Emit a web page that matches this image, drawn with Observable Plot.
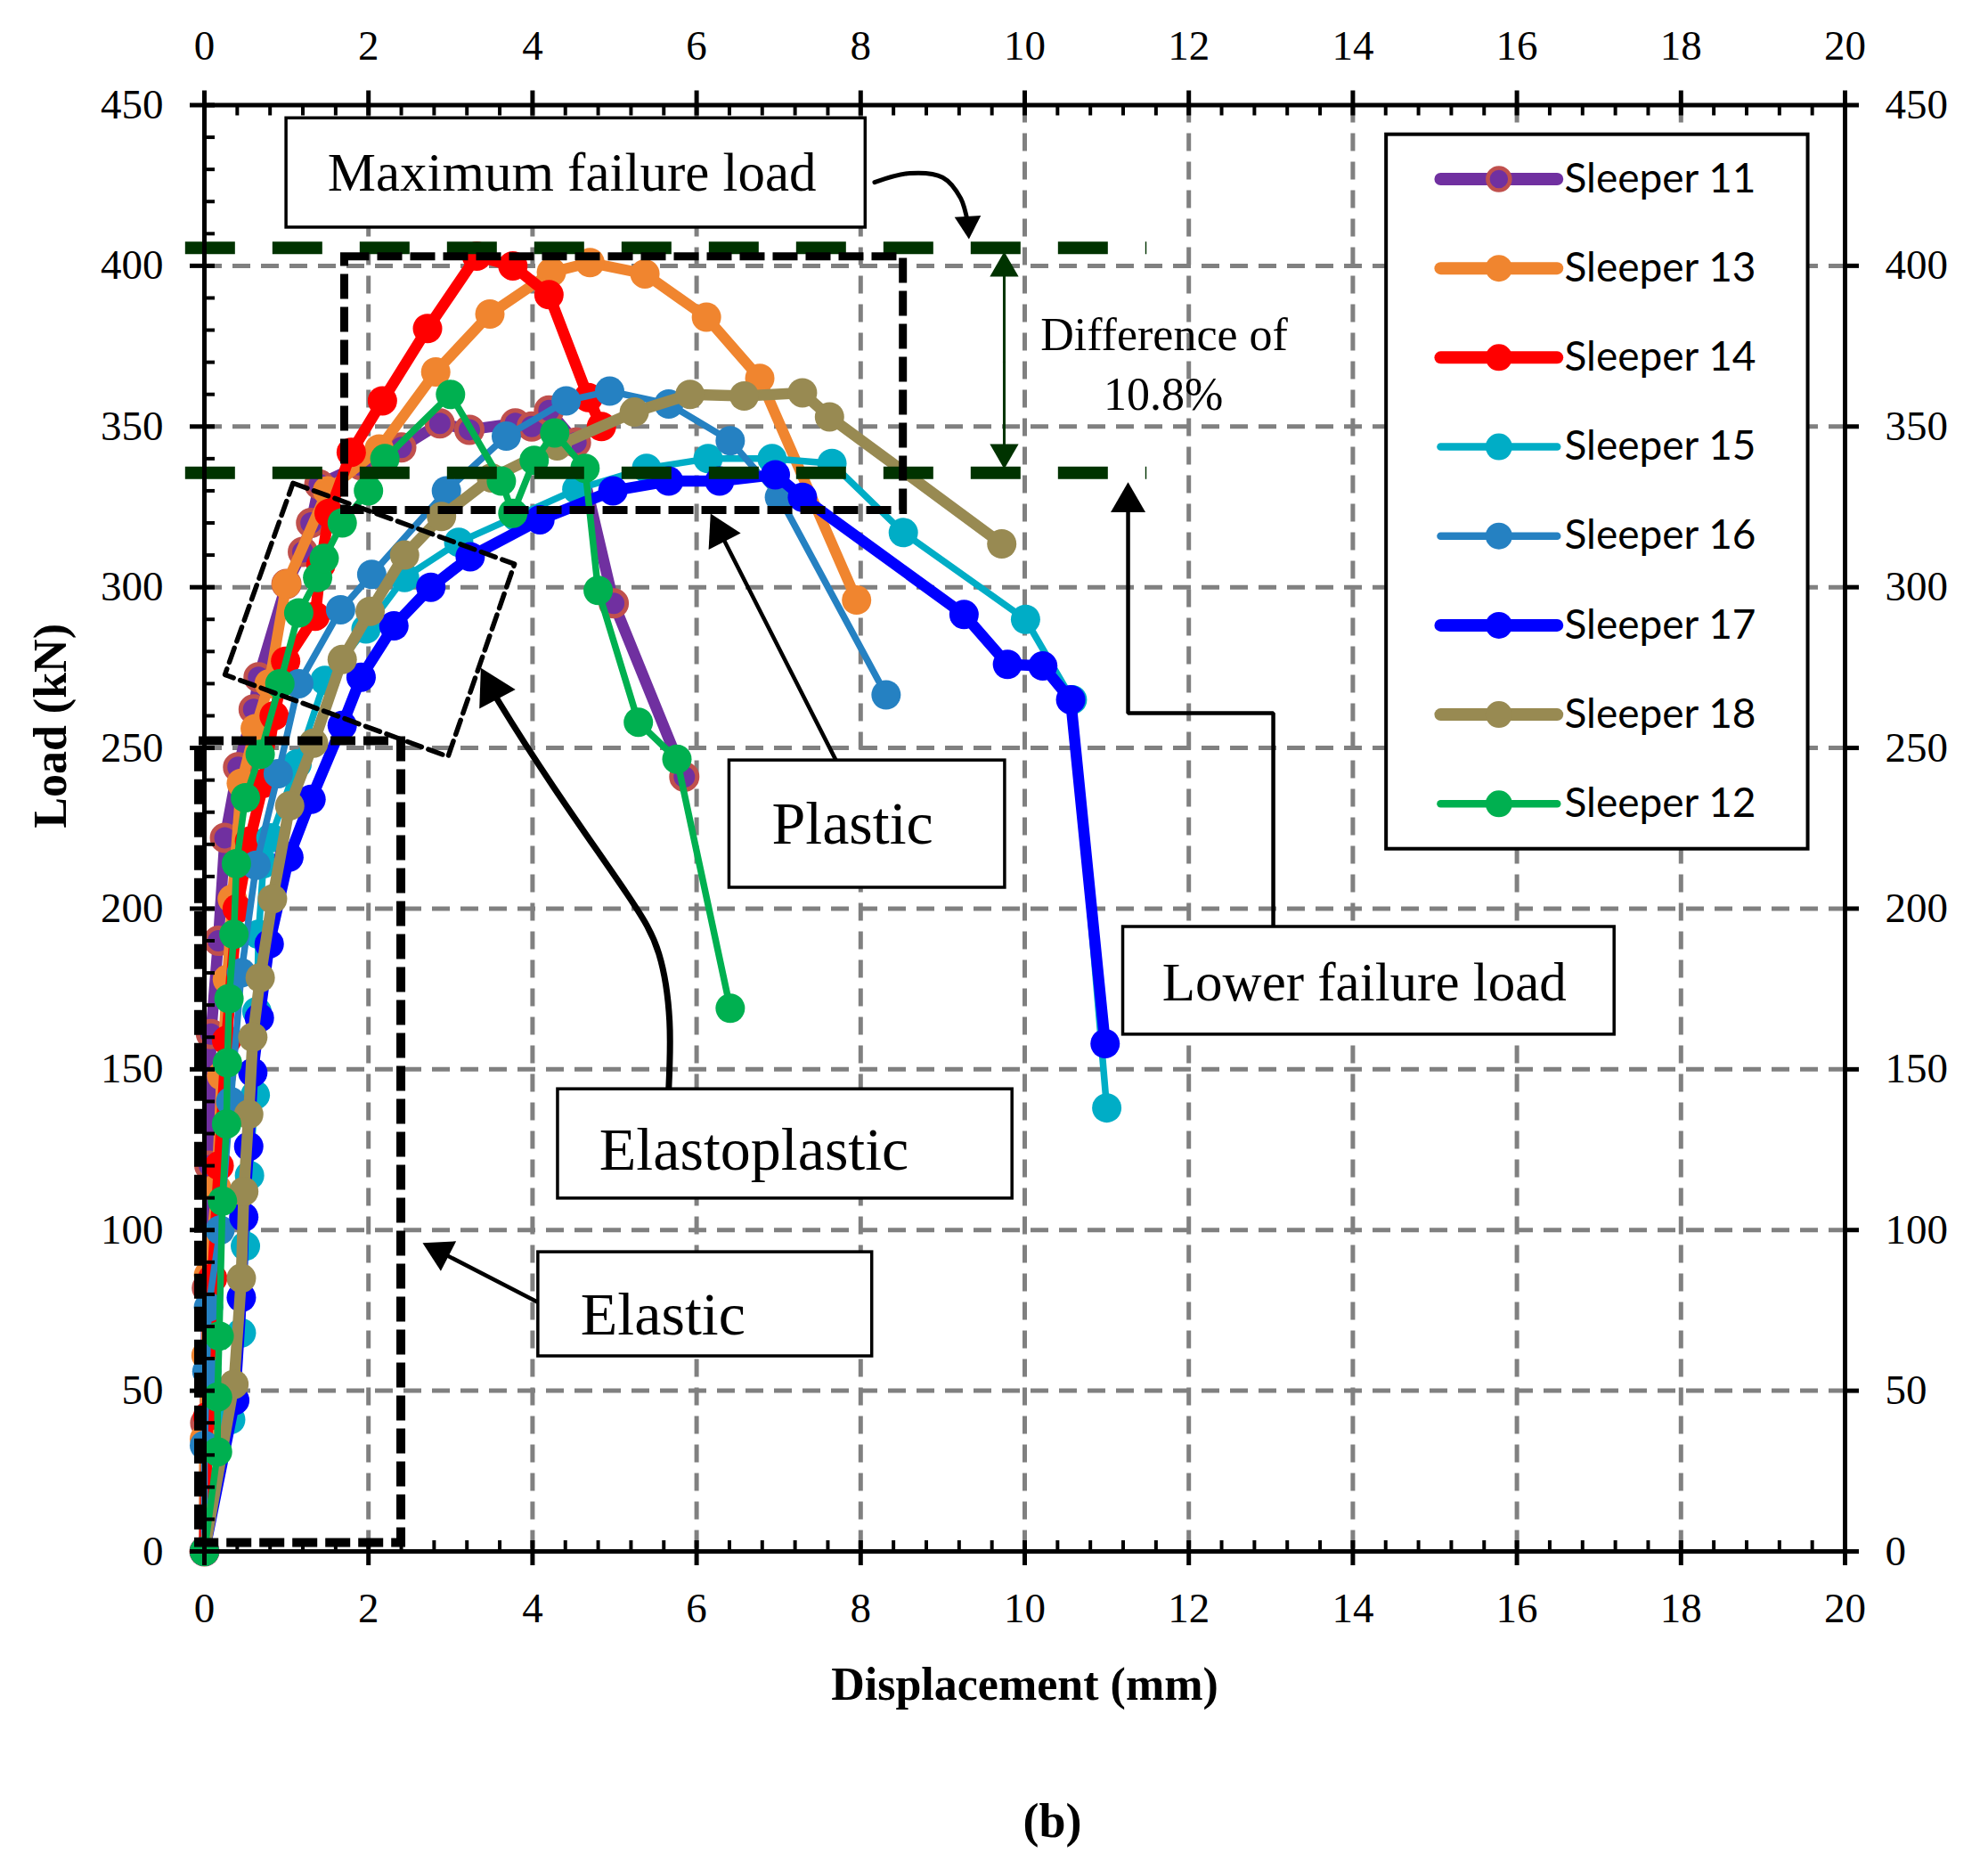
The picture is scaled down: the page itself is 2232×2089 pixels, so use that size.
<!DOCTYPE html>
<html>
<head>
<meta charset="utf-8">
<script src="https://cdn.jsdelivr.net/npm/d3@7"></script>
<script src="https://cdn.jsdelivr.net/npm/@observablehq/plot@0.6"></script>
<style>
html, body { margin: 0; padding: 0; background: #ffffff; }
#chart { width: 2232px; height: 2089px; }
</style>
</head>
<body>
<div id="chart"></div>
<script>
// ---------------- DATA ----------------
const seriesNames = ["Sleeper 11", "Sleeper 13", "Sleeper 14", "Sleeper 15", "Sleeper 16", "Sleeper 17", "Sleeper 18", "Sleeper 12"];

const s11Disp = [0, 0.01, 0.03, 0.06, 0.08, 0.17, 0.25, 0.41, 0.60, 0.66, 1.00, 1.20, 1.30, 1.40, 1.90, 2.40, 2.87, 3.23, 3.79, 3.99, 4.20, 4.53, 4.99, 5.85];
const s11Load = [0, 40, 82, 120, 161, 190, 222, 244, 262, 272, 301, 311, 320, 332, 338, 343.5, 351, 349, 351, 350, 355, 345, 295, 241];

const s13Disp = [0, 0.00, 0.02, 0.05, 0.15, 0.21, 0.28, 0.34, 0.45, 0.62, 0.79, 1.00, 1.50, 2.13, 2.82, 3.48, 4.23, 4.70, 5.37, 6.12, 6.77, 7.95];
const s13Load = [0, 35, 61, 86, 113, 148, 178, 203, 239, 256, 270, 301, 330, 343, 367, 385, 398, 401, 397.5, 384, 365, 296];

const s14Disp = [0, 0.04, 0.10, 0.18, 0.27, 0.40, 0.55, 0.72, 0.85, 0.99, 1.35, 1.42, 1.52, 1.79, 2.17, 2.72, 3.32, 3.76, 4.20, 4.68, 4.84];
const s14Load = [0, 42, 85, 120, 159, 200, 221, 239, 260, 277, 291, 307, 323, 342, 358, 380.5, 403, 400, 391, 359, 350];

const s15Disp = [0, 0.32, 0.45, 0.50, 0.55, 0.62, 0.64, 0.66, 0.72, 0.81, 1.13, 1.47, 1.97, 2.44, 3.10, 3.80, 4.54, 5.39, 6.14, 6.92, 7.65, 8.52, 10.01, 10.58, 11.00];
const s15Load = [0, 41, 68, 95, 117, 142, 168, 192, 214, 222, 245, 271, 287, 303, 314, 322, 330.5, 337, 340, 340, 338.5, 317, 290, 265, 138];

const s16Disp = [0, 0.00, 0.03, 0.05, 0.19, 0.32, 0.45, 0.63, 0.90, 1.15, 1.66, 2.04, 2.95, 3.68, 4.41, 4.94, 5.66, 6.41, 7.01, 8.31];
const s16Load = [0, 33, 56, 76, 100, 140, 180, 213.5, 242, 270, 293, 304, 330, 347, 358, 361, 357, 345.6, 328, 266.5];

const s17Disp = [0, 0.37, 0.45, 0.48, 0.54, 0.59, 0.67, 0.79, 1.03, 1.30, 1.68, 1.91, 2.31, 2.76, 3.24, 4.09, 4.98, 5.66, 6.28, 6.96, 7.29, 9.26, 9.79, 10.22, 10.56, 10.98];
const s17Load = [0, 47, 79, 104, 126, 149, 166, 189, 216, 234, 257, 272, 288, 300, 309.5, 321, 330, 333, 333, 335, 328, 291.5, 276, 275.5, 265, 158];

const s18Disp = [0, 0.36, 0.45, 0.48, 0.54, 0.59, 0.68, 0.83, 1.04, 1.33, 1.68, 2.02, 2.44, 2.89, 3.50, 4.30, 5.24, 5.92, 6.58, 7.29, 7.62, 9.72];
const s18Load = [0, 52, 85, 112, 136, 160, 178.5, 203, 232, 251.5, 277.5, 292.5, 310, 322, 334, 344, 354.5, 360, 359.5, 360.5, 353, 313.5];

const s12Disp = [0, 0.16, 0.16, 0.18, 0.22, 0.27, 0.28, 0.30, 0.36, 0.39, 0.50, 0.68, 0.92, 1.15, 1.38, 1.46, 1.68, 2.00, 2.20, 3.00, 3.62, 3.76, 4.02, 4.27, 4.64, 4.80, 5.29, 5.76, 6.41];
const s12Load = [0, 31, 48, 67, 109, 133, 152, 172, 192, 214, 234.5, 248, 270, 292, 303, 309, 320, 330, 340, 360, 333, 323, 339.5, 348, 337, 299, 258, 246.5, 169];

const seriesDisp = [s11Disp, s13Disp, s14Disp, s15Disp, s16Disp, s17Disp, s18Disp, s12Disp];
const seriesLoad = [s11Load, s13Load, s14Load, s15Load, s16Load, s17Load, s18Load, s12Load];

// axis ticks and labels
const xTickValues = [0, 2, 4, 6, 8, 10, 12, 14, 16, 18, 20];
const yTickValues = [0, 50, 100, 150, 200, 250, 300, 350, 400, 450];
const xGridValues = [2, 4, 6, 8, 10, 12, 14, 16, 18];
const yGridValues = [50, 100, 150, 200, 250, 300, 350, 400];
const xMinorStep = 0.4;
const yMinorStep = 10;

// failure-load levels (kN) and their extent (mm)
const failureLevels = [405.6, 335.6];
const failureExtent = [-0.23, 11.49];

// dashed region boxes [x1, x2, y1, y2]
const plasticRegion = [1.71, 8.52, 323.9, 402.8];
const elasticRegion = [-0.065, 2.40, 2.6, 252.1];
const elastoplasticRegion = [[1.08, 332.4], [3.78, 307.2], [2.97, 247.3], [0.25, 272.8], [1.08, 332.4]];

// annotation text boxes
const boxLabels = ["Maximum failure load", "Plastic", "Elastoplastic", "Elastic", "Lower failure load"];
const boxX1 = [1.00, 6.40, 4.31, 4.07, 11.20];
const boxX2 = [8.06, 9.76, 9.85, 8.14, 17.19];
const boxY1 = [411.9, 206.5, 109.8, 60.7, 160.8];
const boxY2 = [445.9, 246.1, 143.8, 93.1, 194.3];
const boxTextX = [4.48, 7.90, 6.70, 5.59, 14.14];
const boxTextY = [428.9, 226.3, 124.7, 73.4, 176.8];
const noteLines = ["Difference of", "10.8%"];
const noteX = [11.70, 11.69];
const noteY = [378.4, 359.8];

// arrows: path points then tip
const arrowPaths = [
  [[8.17, 426], [8.6, 428.8], [9.0, 427.5], [9.22, 421], [9.31, 413]],
  [[7.70, 246.1]],
  [[5.66, 144], [5.67, 165], [5.54, 186], [5.14, 205], [4.26, 237.7], [3.59, 264.3]],
  [[4.07, 77.5]],
  [[13.03, 194.3], [13.03, 260.8], [11.26, 260.8]],
  [[9.75, 370]],
  [[9.75, 370]]
];
const arrowTips = [[9.32, 408.3], [6.17, 322.9], [3.37, 274.9], [2.66, 96], [11.26, 332.7], [9.75, 404.4], [9.75, 336.8]];

// legend layout (data units)
const legendBox = [14.41, 19.55, 218.5, 440.8];
const legendLineX = [15.07, 16.49];
const legendMarkerX = 15.78;
const legendTextX = 16.58;
const legendTopY = 427.0;
const legendStepY = 27.77;

// ---------------- STYLES ----------------
const seriesColors = ["#7030A0", "#F0852F", "#FF0000", "#00ADC6", "#2581C2", "#0000FF", "#988A52", "#00B050"];
const seriesWidths = [12.5, 12, 12.5, 7.5, 7.5, 12.5, 12.5, 7.5];
const legendWidths = [14, 14, 14, 8.5, 8.5, 14, 14, 8.5];
const markerOutline = ["#C0504D", null, null, null, null, null, null, null];
const arrowRadius = [11, 15, 17, 14, 14.5, 12, 12];
const arrowWidth = [5, 4.5, 7, 4.5, 4.5, 3, 3];
const arrowColor = ["black", "black", "black", "black", "black", "#003300", "#003300"];
const arrowCurve = ["catmull-rom", "linear", "natural", "linear", "linear", "linear", "linear"];
const boxFontSize = [61, 68, 68, 68, 61];

const serif = "Liberation Serif";
const W = 2232, H = 2089;
const mL = 229, mR = 161, mT = 117.5, mB = 348;
const kx = (W - mL - mR) / 20;   // px per mm
const ky = (H - mT - mB) / 450;  // px per kN

// ---------------- BUILD ----------------
const marks = [];

// grid
marks.push(Plot.ruleX(xGridValues, {x: d => d, stroke: "#808080", strokeWidth: 5, strokeDasharray: "20,12"}));
marks.push(Plot.ruleY(yGridValues, {y: d => d, stroke: "#808080", strokeWidth: 5, strokeDasharray: "20,12"}));

// series
seriesNames.forEach((name, i) => {
  const rows = seriesDisp[i].map((d, j) => ({disp: d, load: seriesLoad[i][j]}));
  marks.push(Plot.line(rows, {x: "disp", y: "load", stroke: seriesColors[i], strokeWidth: seriesWidths[i], strokeLinejoin: "round", strokeLinecap: "round"}));
  if (markerOutline[i]) {
    marks.push(Plot.dot(rows, {x: "disp", y: "load", r: 14.5, fill: seriesColors[i], stroke: markerOutline[i], strokeWidth: 5}));
  } else {
    marks.push(Plot.dot(rows, {x: "disp", y: "load", r: 16.5, fill: seriesColors[i], stroke: "none"}));
  }
});

// failure levels
marks.push(Plot.ruleY(failureLevels, {y: d => d, x1: failureExtent[0], x2: failureExtent[1], stroke: "#003300", strokeWidth: 14, strokeDasharray: "56,42"}));

// dashed regions
marks.push(Plot.rect([plasticRegion], {x1: d => d[0], x2: d => d[1], y1: d => d[2], y2: d => d[3], fill: "none", stroke: "black", strokeWidth: 9, strokeDasharray: "28,9"}));
marks.push(Plot.rect([elasticRegion], {x1: d => d[0], x2: d => d[1], y1: d => d[2], y2: d => d[3], fill: "none", stroke: "black", strokeWidth: 10, strokeDasharray: "28,9"}));
marks.push(Plot.line(elastoplasticRegion, {x: d => d[0], y: d => d[1], stroke: "black", strokeWidth: 5.5, strokeDasharray: "17,8"}));

// arrows
arrowPaths.forEach((path, i) => {
  const tip = arrowTips[i];
  const last = path[path.length - 1];
  const dxp = (tip[0] - last[0]) * kx;
  const dyp = -(tip[1] - last[1]) * ky;
  const len = Math.hypot(dxp, dyp);
  const ux = dxp / len, uy = dyp / len;
  const r = arrowRadius[i];
  const off = 1.555 * r;
  const cx = tip[0] - ux * off / kx;
  const cy = tip[1] + uy * off / ky;
  const angle = Math.atan2(ux, -uy) * 180 / Math.PI;
  const pts = path.concat([[cx, cy]]);
  marks.push(Plot.line(pts, {x: d => d[0], y: d => d[1], stroke: arrowColor[i], strokeWidth: arrowWidth[i], curve: arrowCurve[i], strokeLinejoin: "miter"}));
  marks.push(Plot.dot([[cx, cy]], {x: d => d[0], y: d => d[1], symbol: "triangle", r: r, rotate: angle, fill: arrowColor[i], stroke: "none"}));
});

// annotation boxes
const boxes = boxLabels.map((t, i) => ({t, x1: boxX1[i], x2: boxX2[i], y1: boxY1[i], y2: boxY2[i], tx: boxTextX[i], ty: boxTextY[i], fs: boxFontSize[i]}));
marks.push(Plot.rect(boxes, {x1: "x1", x2: "x2", y1: "y1", y2: "y2", fill: "white", stroke: "black", strokeWidth: 3.5}));
boxes.forEach(b => {
  marks.push(Plot.text([b], {x: "tx", y: "ty", text: "t", fontFamily: serif, fontSize: b.fs, fill: "black"}));
});
noteLines.forEach((t, i) => {
  marks.push(Plot.text([t], {x: noteX[i], y: noteY[i], text: d => d, fontFamily: serif, fontSize: 52, fill: "black"}));
});

// legend
marks.push(Plot.rect([legendBox], {x1: d => d[0], x2: d => d[1], y1: d => d[2], y2: d => d[3], fill: "white", stroke: "black", strokeWidth: 4}));
seriesNames.forEach((name, i) => {
  const yRow = legendTopY - i * legendStepY;
  marks.push(Plot.link([name], {x1: legendLineX[0], x2: legendLineX[1], y1: yRow, y2: yRow, stroke: seriesColors[i], strokeWidth: legendWidths[i], strokeLinecap: "round"}));
  if (markerOutline[i]) {
    marks.push(Plot.dot([name], {x: legendMarkerX, y: yRow, r: 12.5, fill: seriesColors[i], stroke: markerOutline[i], strokeWidth: 4.5}));
  } else {
    marks.push(Plot.dot([name], {x: legendMarkerX, y: yRow, r: 15, fill: seriesColors[i]}));
  }
  marks.push(Plot.text([name], {x: legendTextX, y: yRow, text: d => d, textAnchor: "start", fontFamily: "Lato", fontSize: 46, fill: "black"}));
});

// frame and ticks
marks.push(Plot.frame({stroke: "black", strokeWidth: 5}));
const xMinor = d3.range(xMinorStep, 20, xMinorStep).filter(v => Math.abs(v / 2 - Math.round(v / 2)) > 1e-6);
const yMinor = d3.range(yMinorStep, 450, yMinorStep).filter(v => v % 50 !== 0);
// bottom
marks.push(Plot.ruleX(xTickValues, {x: d => d, y1: -16 / ky, y2: 12 / ky, stroke: "black", strokeWidth: 5}));
marks.push(Plot.ruleX(xMinor, {x: d => d, y1: 0, y2: 12 / ky, stroke: "black", strokeWidth: 4}));
// top
marks.push(Plot.ruleX(xTickValues, {x: d => d, y1: 450 - 12 / ky, y2: 450 + 16 / ky, stroke: "black", strokeWidth: 5}));
marks.push(Plot.ruleX(xMinor, {x: d => d, y1: 450 - 12 / ky, y2: 450, stroke: "black", strokeWidth: 4}));
// left
marks.push(Plot.ruleY(yTickValues, {y: d => d, x1: -16 / kx, x2: 12 / kx, stroke: "black", strokeWidth: 5}));
marks.push(Plot.ruleY(yMinor, {y: d => d, x1: 0, x2: 12 / kx, stroke: "black", strokeWidth: 4}));
// right
marks.push(Plot.ruleY(yTickValues, {y: d => d, x1: 20, x2: 20 + 16 / kx, stroke: "black", strokeWidth: 5}));

// tick labels
const tickFont = {fontFamily: serif, fontSize: 47, fill: "black"};
marks.push(Plot.text(xTickValues, {x: d => d, y: 0, dy: 64, text: d => String(d), ...tickFont}));
marks.push(Plot.text(xTickValues, {x: d => d, y: 450, dy: -66, text: d => String(d), ...tickFont}));
marks.push(Plot.text(yTickValues, {x: 0, y: d => d, dx: -46, textAnchor: "end", text: d => String(d), ...tickFont}));
marks.push(Plot.text(yTickValues, {x: 20, y: d => d, dx: 45, textAnchor: "start", text: d => String(d), ...tickFont}));

// axis titles and panel label
marks.push(Plot.text(["Displacement (mm)"], {frameAnchor: "bottom", dy: 166, text: d => d, fontFamily: serif, fontWeight: "bold", fontSize: 52, fill: "black"}));
marks.push(Plot.text(["Load (kN)"], {frameAnchor: "left", dx: -172, rotate: -90, text: d => d, fontFamily: serif, fontWeight: "bold", fontSize: 52, fill: "black"}));
marks.push(Plot.text(["(b)"], {frameAnchor: "bottom", dx: 31, dy: 320, text: d => d, fontFamily: serif, fontWeight: "bold", fontSize: 54, fill: "black"}));

const chart = Plot.plot({
  width: W,
  height: H,
  marginLeft: mL,
  marginRight: mR,
  marginTop: mT,
  marginBottom: mB,
  x: {domain: [0, 20], axis: null},
  y: {domain: [0, 450], axis: null},
  style: {background: "white", overflow: "visible"},
  marks
});
document.getElementById("chart").appendChild(chart);
</script>
</body>
</html>
